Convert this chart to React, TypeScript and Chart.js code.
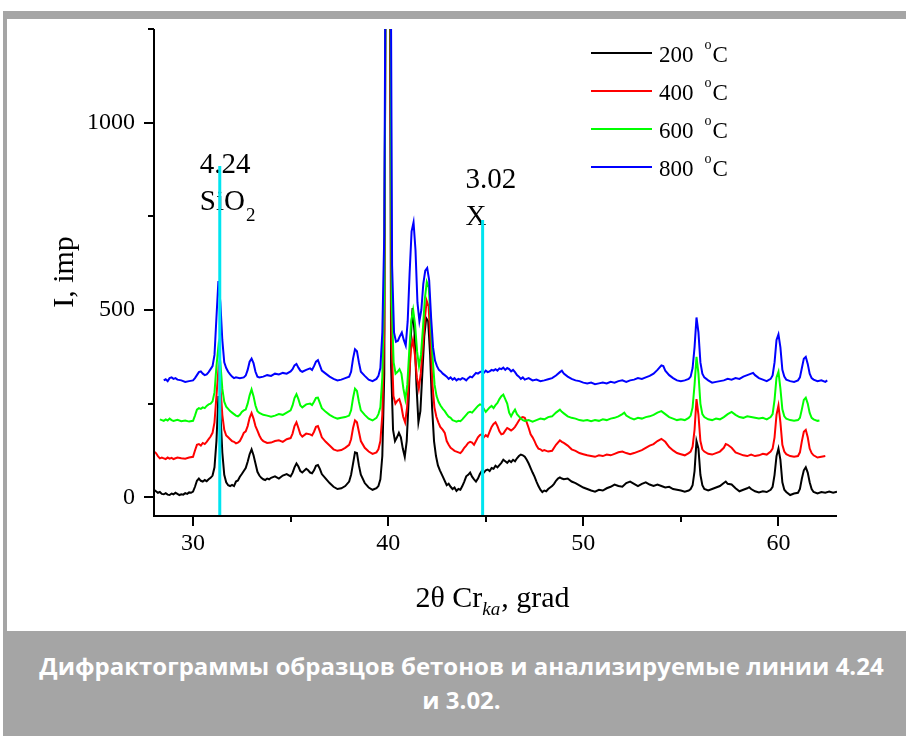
import React, { useEffect, useRef } from "react";
import { Chart, registerables } from "chart.js";

Chart.register(...registerables);

// ---- data (2θ in degrees, intensity in imp) ----
const seriesNames = ["200", "400", "600", "800"];
const seriesColors = ["#000000", "#ff0000", "#00ff00", "#0000ff"];

const series200: [number, number][] = [
  [28.0,20],[28.1,16],[28.2,12],[28.3,14],[28.4,9],[28.5,8],[28.6,11],[28.7,7],[28.8,6],[28.9,10],[29.0,8],[29.1,12],[29.2,9],[29.3,6],[29.4,8],[29.5,7],[29.6,11],[29.7,9],[29.8,13],[29.9,12],
  [30.0,15],[30.1,28],[30.2,44],[30.3,50],[30.4,44],[30.5,42],[30.6,46],[30.7,43],[30.8,48],[30.9,52],[31.0,58],[31.1,80],[31.2,150],[31.3,270],[31.4,230],[31.5,120],[31.6,60],[31.7,40],[31.8,32],[31.9,30],
  [32.0,33],[32.1,30],[32.2,42],[32.3,45],[32.4,55],[32.5,62],[32.6,70],[32.7,78],[32.8,95],[32.9,115],[33.0,128],[33.1,112],[33.2,90],[33.3,68],[33.4,58],[33.5,52],[33.6,48],[33.7,46],[33.8,50],[33.9,48],
  [34.0,52],[34.2,56],[34.4,50],[34.6,58],[34.8,62],[35.0,56],[35.1,65],[35.2,80],[35.3,90],[35.4,82],[35.5,70],[35.6,66],[35.8,76],[35.9,72],[36.0,66],[36.1,64],[36.2,72],[36.3,84],[36.4,86],[36.5,76],[36.6,62],[36.8,50],
  [37.0,38],[37.2,28],[37.4,22],[37.6,24],[37.8,30],[38.0,42],[38.1,60],[38.2,90],[38.3,120],[38.4,118],[38.5,85],[38.6,60],[38.8,38],[39.0,26],[39.2,20],[39.4,24],[39.5,30],[39.6,48],[39.7,110],[39.8,330],
  [39.9,2100],[40.05,2100],[40.15,350],[40.25,180],[40.35,150],[40.45,160],[40.55,172],[40.65,160],[40.75,130],[40.85,108],[40.95,150],[41.05,260],[41.15,420],[41.25,505],[41.35,440],[41.45,300],[41.55,200],[41.65,230],[41.75,330],[41.85,430],[41.95,478],
  [42.05,470],[42.15,380],[42.25,240],[42.35,150],[42.45,110],[42.55,85],[42.65,72],[42.8,55],[43.0,32],[43.1,36],[43.2,28],[43.3,22],[43.4,26],[43.5,17],[43.6,22],[43.7,20],[43.8,30],[43.9,42],
  [44.0,56],[44.1,60],[44.2,66],[44.3,55],[44.4,48],[44.5,42],[44.6,50],[44.7,62],[44.8,70],[44.9,66],[45.0,72],[45.1,74],[45.2,70],[45.3,78],[45.4,76],[45.5,84],[45.6,80],[45.7,86],[45.8,92],[45.9,100],
  [46.0,96],[46.1,92],[46.2,98],[46.3,94],[46.4,100],[46.5,96],[46.6,104],[46.7,110],[46.8,114],[46.9,112],[47.0,108],[47.1,100],[47.2,90],[47.3,78],[47.4,66],[47.5,55],[47.6,42],[47.7,30],[47.8,20],[47.9,14],
  [48.0,18],[48.1,16],[48.2,22],[48.3,26],[48.4,30],[48.5,36],[48.6,44],[48.7,50],[48.8,53],[48.9,50],[49.0,48],[49.2,50],[49.4,42],[49.6,38],[49.8,32],[50.0,26],[50.2,22],[50.4,18],[50.6,15],[50.8,20],
  [51.0,18],[51.2,24],[51.4,28],[51.6,34],[51.8,30],[52.0,28],[52.2,38],[52.4,42],[52.6,36],[52.8,30],[53.0,36],[53.2,40],[53.4,34],[53.6,30],[53.8,34],[54.0,30],[54.2,26],[54.4,28],[54.6,22],[54.8,20],
  [55.0,18],[55.2,15],[55.4,18],[55.5,22],[55.6,32],[55.7,70],[55.8,150],[55.9,130],[56.0,60],[56.1,32],[56.2,22],[56.4,18],[56.6,22],[56.8,26],[57.0,30],[57.2,38],[57.3,42],[57.4,36],[57.6,34],[57.8,24],
  [58.0,16],[58.2,20],[58.4,24],[58.5,27],[58.6,22],[58.8,16],[59.0,13],[59.2,16],[59.4,14],[59.6,20],[59.7,28],[59.8,60],[59.9,110],[60.0,130],[60.1,100],[60.2,40],[60.3,20],[60.4,14],[60.6,6],[60.8,10],
  [61.0,12],[61.1,22],[61.2,50],[61.3,72],[61.4,80],[61.5,66],[61.6,40],[61.7,22],[61.8,14],[62.0,10],[62.2,14],[62.4,12],[62.6,15],[62.8,12],[63.0,15],
];

const series400: [number, number][] = [
  [28.0,122],[28.1,118],[28.2,110],[28.3,104],[28.4,106],[28.5,104],[28.6,102],[28.7,106],[28.8,103],[28.9,105],[29.0,102],[29.2,106],[29.4,104],[29.6,103],[29.8,106],
  [30.0,108],[30.1,125],[30.2,140],[30.3,142],[30.4,138],[30.5,145],[30.6,142],[30.7,148],[30.8,155],[30.9,162],[31.0,172],[31.1,200],[31.2,270],[31.3,340],[31.4,300],[31.5,220],[31.6,180],[31.7,165],[31.8,160],[31.9,155],
  [32.0,150],[32.1,148],[32.2,144],[32.3,146],[32.4,150],[32.5,160],[32.6,172],[32.7,176],[32.8,190],[32.9,212],[33.0,225],[33.1,210],[33.2,190],[33.3,178],[33.4,165],[33.5,155],[33.6,150],[33.8,145],
  [34.0,146],[34.2,150],[34.4,152],[34.6,148],[34.8,155],[35.0,158],[35.1,170],[35.2,190],[35.3,200],[35.4,185],[35.5,168],[35.6,162],[35.8,170],[36.0,168],[36.1,165],[36.2,175],[36.3,188],[36.4,190],[36.5,176],[36.6,160],[36.8,148],
  [37.0,138],[37.2,128],[37.4,124],[37.6,126],[37.8,132],[38.0,140],[38.1,155],[38.2,185],[38.3,205],[38.4,200],[38.5,175],[38.6,150],[38.8,132],[39.0,122],[39.2,116],[39.4,120],[39.5,128],[39.6,150],[39.7,220],[39.8,450],
  [39.92,2100],[40.06,2100],[40.17,420],[40.27,270],[40.37,250],[40.47,258],[40.57,262],[40.67,245],[40.77,215],[40.87,200],[40.97,240],[41.07,320],[41.17,395],[41.27,420],[41.37,380],[41.47,320],[41.57,290],[41.67,330],[41.77,400],[41.87,470],[41.97,525],
  [42.07,510],[42.17,420],[42.27,300],[42.37,240],[42.47,215],[42.57,200],[42.67,188],[42.8,180],[42.9,172],[43.0,150],[43.1,140],[43.2,132],[43.3,128],[43.4,124],[43.5,122],[43.6,120],[43.7,118],[43.8,124],[43.9,132],
  [44.0,138],[44.1,145],[44.2,148],[44.3,146],[44.4,140],[44.5,150],[44.6,160],[44.7,166],[44.8,168],[44.9,160],[45.0,166],[45.1,162],[45.2,175],[45.3,188],[45.4,196],[45.5,200],[45.6,190],[45.7,176],[45.8,168],[45.9,170],
  [46.0,178],[46.1,185],[46.2,182],[46.3,178],[46.4,182],[46.5,188],[46.6,196],[46.7,205],[46.8,212],[46.9,214],[47.0,212],[47.1,200],[47.2,185],[47.3,168],[47.4,160],[47.5,150],[47.6,138],[47.7,130],[47.8,128],[47.9,124],
  [48.0,126],[48.2,122],[48.4,124],[48.6,140],[48.8,152],[48.9,148],[49.0,145],[49.2,138],[49.4,128],[49.6,124],[49.8,118],[50.0,115],[50.2,112],[50.4,110],[50.6,108],[50.8,112],
  [51.0,110],[51.2,114],[51.4,112],[51.6,116],[51.8,120],[52.0,122],[52.2,118],[52.4,115],[52.6,118],[52.8,122],[53.0,126],[53.2,132],[53.4,138],[53.6,142],[53.8,150],[54.0,156],[54.2,148],[54.4,134],[54.6,125],[54.8,118],
  [55.0,115],[55.2,112],[55.4,118],[55.5,122],[55.6,135],[55.7,180],[55.8,262],[55.9,220],[56.0,150],[56.1,128],[56.2,122],[56.4,116],[56.6,114],[56.8,118],[57.0,122],[57.2,132],[57.3,142],[57.4,140],[57.6,132],[57.8,120],
  [58.0,116],[58.2,112],[58.4,110],[58.6,114],[58.8,110],[59.0,112],[59.2,116],[59.4,114],[59.6,122],[59.7,130],[59.8,160],[59.9,220],[60.0,245],[60.1,200],[60.2,140],[60.3,122],[60.4,115],[60.6,110],[60.8,108],
  [61.0,110],[61.1,120],[61.2,150],[61.3,175],[61.4,180],[61.5,160],[61.6,130],[61.7,118],[61.8,112],[62.0,106],[62.2,108],[62.4,110],
];

const series600: [number, number][] = [
  [28.3,208],[28.4,206],[28.5,204],[28.6,208],[28.7,205],[28.8,210],[28.9,206],[29.0,204],[29.2,207],[29.4,203],[29.6,205],[29.8,202],
  [30.0,204],[30.1,218],[30.2,234],[30.3,238],[30.4,236],[30.5,240],[30.6,238],[30.7,244],[30.8,248],[30.9,250],[31.0,256],[31.1,280],[31.2,350],[31.3,402],[31.4,360],[31.5,290],[31.6,255],[31.7,242],[31.8,236],[31.9,230],
  [32.0,226],[32.1,222],[32.2,218],[32.3,216],[32.4,220],[32.5,228],[32.6,232],[32.7,234],[32.8,250],[32.9,272],[33.0,288],[33.1,270],[33.2,245],[33.3,230],[33.4,225],[33.6,220],[33.8,218],
  [34.0,215],[34.2,218],[34.4,222],[34.6,220],[34.8,226],[35.0,232],[35.1,245],[35.2,265],[35.3,275],[35.4,262],[35.5,245],[35.6,240],[35.8,248],[36.0,250],[36.1,246],[36.2,255],[36.3,265],[36.4,266],[36.5,252],[36.6,238],[36.8,228],
  [37.0,220],[37.2,214],[37.4,210],[37.6,212],[37.8,214],[38.0,218],[38.1,232],[38.2,265],[38.3,290],[38.4,284],[38.5,255],[38.6,232],[38.8,220],[39.0,210],[39.2,205],[39.4,212],[39.5,222],[39.6,240],[39.7,320],[39.8,560],
  [39.93,2100],[40.07,2100],[40.18,520],[40.28,360],[40.38,330],[40.48,335],[40.58,342],[40.68,330],[40.78,290],[40.88,262],[40.98,300],[41.08,390],[41.18,470],[41.28,500],[41.38,460],[41.48,390],[41.58,350],[41.68,380],[41.78,450],[41.88,530],[41.98,575],
  [42.08,560],[42.18,470],[42.28,370],[42.38,300],[42.48,270],[42.58,255],[42.68,245],[42.8,236],[42.9,230],[43.0,222],[43.1,215],[43.2,212],[43.3,206],[43.4,204],[43.5,202],[43.6,204],[43.7,203],[43.8,208],[43.9,214],
  [44.0,220],[44.1,226],[44.2,228],[44.3,226],[44.4,232],[44.5,238],[44.6,244],[44.7,248],[44.8,246],[44.9,236],[45.0,228],[45.1,234],[45.2,240],[45.3,244],[45.4,238],[45.5,246],[45.6,252],[45.7,262],[45.8,270],[45.9,274],
  [46.0,262],[46.1,250],[46.2,226],[46.3,216],[46.4,226],[46.5,234],[46.6,222],[46.7,216],[46.8,210],[46.9,206],[47.0,204],[47.2,206],[47.4,202],[47.6,206],[47.8,210],
  [48.0,208],[48.2,214],[48.4,216],[48.6,226],[48.8,234],[48.9,228],[49.0,224],[49.2,216],[49.4,212],[49.6,210],[49.8,206],[50.0,204],[50.2,206],[50.4,203],[50.6,206],[50.8,204],
  [51.0,208],[51.2,206],[51.4,210],[51.6,212],[51.8,216],[52.0,222],[52.1,226],[52.2,218],[52.4,212],[52.6,208],[52.8,212],[53.0,210],[53.2,214],[53.4,216],[53.6,220],[53.8,226],[54.0,230],[54.2,222],[54.4,214],[54.6,210],[54.8,206],
  [55.0,208],[55.2,206],[55.4,212],[55.5,218],[55.6,240],[55.7,300],[55.8,375],[55.9,330],[56.0,250],[56.1,222],[56.2,214],[56.4,208],[56.6,206],[56.8,210],[57.0,208],[57.2,214],[57.4,222],[57.6,228],[57.8,220],
  [58.0,214],[58.2,212],[58.4,216],[58.6,214],[58.8,212],[59.0,210],[59.2,212],[59.4,208],[59.6,214],[59.7,222],[59.8,260],[59.9,320],[60.0,335],[60.1,290],[60.2,235],[60.3,216],[60.4,210],[60.6,206],[60.8,204],
  [61.0,206],[61.1,212],[61.2,235],[61.3,260],[61.4,266],[61.5,250],[61.6,225],[61.7,212],[61.8,208],[62.0,204],[62.1,205],
];

const series800: [number, number][] = [
  [28.5,312],[28.6,315],[28.7,310],[28.8,318],[28.9,320],[29.0,316],[29.1,318],[29.2,314],[29.4,312],[29.6,308],[29.8,310],
  [30.0,312],[30.1,318],[30.2,326],[30.3,334],[30.4,336],[30.5,330],[30.6,326],[30.7,328],[30.8,334],[30.9,342],[31.0,350],[31.1,380],[31.2,480],[31.3,577],[31.4,520],[31.5,420],[31.6,360],[31.7,345],[31.8,335],[31.9,328],
  [32.0,322],[32.1,318],[32.2,320],[32.4,318],[32.6,320],[32.7,325],[32.8,340],[32.9,362],[33.0,370],[33.1,358],[33.2,335],[33.3,322],[33.4,320],[33.6,322],[33.8,326],
  [34.0,324],[34.2,330],[34.4,328],[34.6,332],[34.8,330],[35.0,336],[35.1,342],[35.2,352],[35.3,356],[35.4,346],[35.5,338],[35.6,335],[35.8,340],[36.0,344],[36.1,340],[36.2,350],[36.3,362],[36.4,366],[36.5,352],[36.6,338],[36.8,330],
  [37.0,322],[37.2,316],[37.4,312],[37.6,314],[37.8,318],[38.0,322],[38.1,335],[38.2,370],[38.3,395],[38.4,390],[38.5,360],[38.6,335],[38.8,324],[39.0,314],[39.2,310],[39.4,316],[39.5,324],[39.6,345],[39.7,440],[39.8,700],
  [39.92,2100],[40.08,2100],[40.2,620],[40.3,440],[40.4,415],[40.5,418],[40.6,430],[40.7,440],[40.8,420],[40.9,405],[41.0,470],[41.1,600],[41.2,710],[41.3,734],[41.4,660],[41.5,520],[41.6,470],[41.7,500],[41.8,570],[41.9,605],
  [42.0,612],[42.1,580],[42.2,480],[42.3,400],[42.4,365],[42.5,350],[42.6,340],[42.7,336],[42.8,330],[42.9,326],[43.0,322],[43.1,316],[43.2,320],[43.3,314],[43.4,318],[43.5,312],[43.6,316],[43.7,314],[43.8,318],[43.9,316],
  [44.0,312],[44.1,318],[44.2,322],[44.3,320],[44.4,326],[44.5,332],[44.6,330],[44.7,334],[44.8,336],[44.9,332],[45.0,338],[45.1,334],[45.2,336],[45.3,340],[45.4,338],[45.5,342],[45.6,338],[45.7,344],[45.8,342],[45.9,346],
  [46.0,340],[46.1,345],[46.2,342],[46.3,336],[46.4,340],[46.5,334],[46.6,326],[46.7,322],[46.8,316],[46.9,320],[47.0,314],[47.2,318],[47.4,312],[47.6,314],[47.8,310],
  [48.0,312],[48.2,315],[48.4,318],[48.6,325],[48.8,334],[48.9,338],[49.0,330],[49.2,322],[49.4,316],[49.6,312],[49.8,310],[50.0,306],[50.2,304],[50.4,306],[50.6,302],[50.8,304],
  [51.0,306],[51.2,304],[51.4,308],[51.6,306],[51.8,310],[52.0,312],[52.2,308],[52.4,312],[52.6,314],[52.8,318],[53.0,316],[53.2,320],[53.4,324],[53.6,330],[53.8,340],[54.0,352],[54.1,350],[54.2,338],[54.4,326],[54.6,318],[54.8,312],
  [55.0,310],[55.2,312],[55.4,316],[55.5,322],[55.6,345],[55.7,400],[55.8,480],[55.9,440],[56.0,360],[56.1,330],[56.2,320],[56.4,312],[56.6,306],[56.8,308],[57.0,310],[57.2,312],[57.4,316],[57.6,314],[57.8,318],
  [58.0,316],[58.2,322],[58.4,326],[58.6,330],[58.7,332],[58.8,326],[59.0,318],[59.2,314],[59.4,310],[59.6,316],[59.7,325],[59.8,360],[59.9,420],[60.0,435],[60.1,400],[60.2,340],[60.3,322],[60.4,314],[60.6,310],[60.8,308],
  [61.0,312],[61.1,320],[61.2,345],[61.3,370],[61.4,375],[61.5,356],[61.6,330],[61.7,318],[61.8,314],[62.0,310],[62.2,312],[62.4,308],[62.5,312],
];

const allSeries = [series200, series400, series600, series800];

// analysed lines (2θ position, top of marker in imp, labels)
const markerAngles = [31.37, 44.84];
const markerTops = [884, 740];
const markerLabelTop = ["4.24", "3.02"];
const markerLabelBottom = ["SiO", "X"];
const markerLabelSub = ["2", ""];
const markerColor = "#00e5f0";

const xTicks = [30, 35, 40, 45, 50, 55, 60];
const xLabeled = [30, 40, 50, 60];
const yTicks = [0, 250, 500, 750, 1000, 1250];
const yLabeled = [0, 500, 1000];

const X_MIN = 28;
const X_MAX = 63;
const Y_MIN = -50;
const Y_MAX = 1250;

const SERIF = "'Liberation Serif', 'Times New Roman', serif";
const caption1 = "Дифрактограммы образцов бетонов и анализируемые линии 4.24";
const caption2 = "и 3.02.";

const decorPlugin = {
  id: "decor",
  beforeDatasetsDraw(chart: any) {
    const { ctx, scales } = chart;
    const xs = scales.x;
    ctx.save();
    ctx.fillStyle = "#000";
    ctx.textAlign = "left";
    ctx.textBaseline = "alphabetic";
    markerAngles.forEach((a, i) => {
      const px = xs.getPixelForValue(a);
      const ytop = scales.y.getPixelForValue(markerTops[i]);
      const dx = i === 0 ? -20 : -17;
      ctx.font = `29px ${SERIF}`;
      if (i === 0) {
        ctx.fillText(markerLabelTop[i], px + dx, ytop + 7);
        ctx.fillText(markerLabelBottom[i], px + dx, ytop + 44);
        const w = ctx.measureText(markerLabelBottom[i]).width;
        ctx.font = `19px ${SERIF}`;
        ctx.fillText(markerLabelSub[i], px + dx + w + 1, ytop + 55);
      } else {
        ctx.fillText(markerLabelTop[i], px + dx, ytop - 32);
        ctx.fillText(markerLabelBottom[i], px + dx, ytop + 5);
      }
    });
    ctx.restore();
  },
  afterDraw(chart: any) {
    const { ctx, chartArea, scales } = chart;
    const { left, right, top, bottom } = chartArea;
    ctx.save();
    ctx.strokeStyle = "#000";
    ctx.lineWidth = 2;
    ctx.lineCap = "butt";
    // axes
    ctx.beginPath();
    ctx.moveTo(left, top);
    ctx.lineTo(left, bottom + 1);
    ctx.moveTo(left - 1, bottom);
    ctx.lineTo(right, bottom);
    ctx.stroke();
    // ticks
    ctx.beginPath();
    xTicks.forEach((v) => {
      const px = Math.round(scales.x.getPixelForValue(v));
      const len = xLabeled.includes(v) ? 10 : 6;
      ctx.moveTo(px, bottom);
      ctx.lineTo(px, bottom + len);
    });
    yTicks.forEach((v) => {
      const py = Math.round(scales.y.getPixelForValue(v));
      const len = yLabeled.includes(v) ? 10 : 6;
      ctx.moveTo(left, py);
      ctx.lineTo(left - len, py);
    });
    ctx.stroke();

    // axis titles
    ctx.fillStyle = "#000";
    ctx.textBaseline = "alphabetic";
    const big = `30px ${SERIF}`;
    const sub = `italic 19px ${SERIF}`;
    const p1 = "2θ Cr";
    const p2 = "ka";
    const p3 = ", grad";
    ctx.font = big;
    const w1 = ctx.measureText(p1).width;
    const w3 = ctx.measureText(p3).width;
    ctx.font = sub;
    const w2 = ctx.measureText(p2).width;
    const total = w1 + w2 + w3 + 1;
    const cx = (left + right) / 2 - 3;
    const x0 = cx - total / 2;
    const base = 607;
    ctx.textAlign = "left";
    ctx.font = big;
    ctx.fillText(p1, x0, base);
    ctx.font = sub;
    ctx.fillText(p2, x0 + w1, base + 8);
    ctx.font = big;
    ctx.fillText(p3, x0 + w1 + w2 + 1, base);

    // y title
    ctx.save();
    ctx.translate(73, 272);
    ctx.rotate(-Math.PI / 2);
    ctx.textAlign = "center";
    ctx.font = big;
    ctx.fillText("I, imp", 0, 0);
    ctx.restore();

    // legend
    seriesNames.forEach((name, i) => {
      const y = 53 + i * 38;
      ctx.strokeStyle = seriesColors[i];
      ctx.lineWidth = 2;
      ctx.beginPath();
      ctx.moveTo(591, y);
      ctx.lineTo(652, y);
      ctx.stroke();
      ctx.fillStyle = "#000";
      ctx.textAlign = "left";
      ctx.font = `23px ${SERIF}`;
      const tx = 659;
      const tb = y + 8.5;
      ctx.fillText(name, tx, tb);
      const wn = ctx.measureText(name).width;
      ctx.font = `14px ${SERIF}`;
      const ox = tx + wn + 11;
      ctx.fillText("o", ox, tb - 13);
      const wo = ctx.measureText("o").width;
      ctx.font = `23px ${SERIF}`;
      ctx.fillText("C", ox + wo + 1, tb);
    });
    ctx.restore();
  },
};

export default function App() {
  const canvasRef = useRef<HTMLCanvasElement | null>(null);

  useEffect(() => {
    const canvas = canvasRef.current;
    if (!canvas) return;

    const datasets: any[] = allSeries.map((s, i) => ({
      label: seriesNames[i] + " °C",
      data: s.map(([x, y]) => ({ x, y })),
      borderColor: seriesColors[i],
      backgroundColor: seriesColors[i],
      borderWidth: 2,
      pointRadius: 0,
      tension: 0,
      fill: false,
      order: 4 - i,
    }));
    markerAngles.forEach((a, i) => {
      datasets.push({
        label: "marker" + i,
        data: [
          { x: a, y: Y_MIN },
          { x: a, y: markerTops[i] },
        ],
        borderColor: markerColor,
        backgroundColor: markerColor,
        borderWidth: 3,
        pointRadius: 0,
        fill: false,
        order: -1,
      });
    });

    const chart = new Chart(canvas, {
      type: "line",
      data: { datasets },
      plugins: [decorPlugin],
      options: {
        animation: false,
        responsive: false,
        maintainAspectRatio: false,
        devicePixelRatio: 1,
        layout: { padding: { left: 0, right: 69, top: 29, bottom: 0 } },
        plugins: {
          legend: { display: false },
          tooltip: { enabled: false },
          title: { display: false },
        },
        scales: {
          x: {
            type: "linear",
            min: X_MIN,
            max: X_MAX,
            grid: { display: false, drawTicks: false },
            border: { display: false },
            afterBuildTicks: (scale: any) => {
              scale.ticks = xLabeled.map((v) => ({ value: v }));
            },
            afterFit: (scale: any) => {
              scale.height = 631 - 516;
              scale.paddingLeft = 0;
              scale.paddingRight = 0;
            },
            ticks: {
              autoSkip: false,
              maxRotation: 0,
              minRotation: 0,
              padding: 13,
              color: "#000",
              font: { family: SERIF, size: 24 },
              callback: (v: any) => String(v),
            },
          },
          y: {
            type: "linear",
            min: Y_MIN,
            max: Y_MAX,
            grid: { display: false, drawTicks: false },
            border: { display: false },
            afterBuildTicks: (scale: any) => {
              scale.ticks = yLabeled.map((v) => ({ value: v }));
            },
            afterFit: (scale: any) => {
              scale.width = 154;
              scale.paddingTop = 0;
              scale.paddingBottom = 0;
            },
            ticks: {
              autoSkip: false,
              padding: 19,
              color: "#000",
              font: { family: SERIF, size: 24 },
              callback: (v: any) => String(v),
            },
          },
        },
      } as any,
    });

    return () => {
      chart.destroy();
    };
  }, []);

  return (
    <div
      style={{
        position: "fixed",
        left: 0,
        top: 0,
        width: 906,
        height: 736,
        overflow: "hidden",
        background: "#ffffff",
      }}
    >
      <div
        style={{
          position: "absolute",
          left: 3,
          top: 11,
          width: 917,
          height: 725,
          background: "#a5a5a5",
        }}
      />
      <div
        style={{
          position: "absolute",
          left: 7,
          top: 19,
          width: 913,
          height: 612,
          background: "#ffffff",
        }}
      />
      <canvas
        ref={canvasRef}
        width={906}
        height={631}
        style={{ position: "absolute", left: 0, top: 0, width: 906, height: 631 }}
      />
      <div
        style={{
          position: "absolute",
          left: 3,
          top: 631,
          width: 917,
          height: 105,
          color: "#ffffff",
          fontFamily: "'Open Sans', 'Noto Sans', sans-serif",
          fontWeight: 700,
          fontSize: 24,
          lineHeight: "34px",
          textAlign: "center",
          paddingTop: 18,
          boxSizing: "border-box",
        }}
      >
        <div style={{ whiteSpace: "nowrap" }}>{caption1}</div>
        <div style={{ whiteSpace: "nowrap" }}>{caption2}</div>
      </div>
    </div>
  );
}
